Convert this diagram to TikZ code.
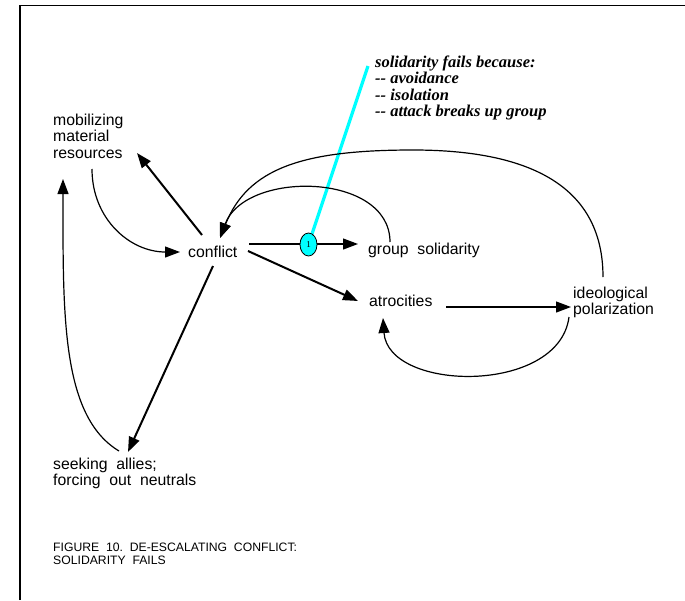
\documentclass[tikz,border=0pt]{standalone}
\usepackage{fontspec}
\setmainfont{Liberation Sans}
\newfontfamily\notefont{Liberation Serif}
\usetikzlibrary{arrows.meta,calc,shapes.geometric}
\definecolor{aqua}{RGB}{0,255,255}

\begin{document}
\begin{tikzpicture}[x=1pt,y=-1pt,
  lbl/.style={inner sep=0pt,align=left,font=\fontsize{15.8}{16.5}\selectfont},
  captxt/.style={inner sep=0pt,align=left,font=\fontsize{12.2}{13.5}\selectfont},
  notestyle/.style={inner sep=0pt,align=left,font=\notefont\bfseries\itshape\fontsize{16.5}{16.5}\selectfont},
  arr/.style={-{Triangle[length=15pt,width=11pt]}},
  heavy/.style={line width=2pt},
  lite/.style={line width=1.2pt},
  badge/.style={draw,fill=aqua,ellipse,minimum width=17pt,minimum height=23pt,
    inner sep=0pt,line width=0.8pt,font=\notefont\fontsize{9}{9}\selectfont}
]
\useasboundingbox (0,0) rectangle (685,600);
\fill[white] (0,0) rectangle (685,600);

% frame
\draw[line width=1.5pt] (20,600) -- (20,5.5) -- (685,5.5);

% labels
\node[lbl,anchor=north west] (mob) at (53,113.5) {mobilizing\\material\\resources};
\node[lbl,anchor=base west] (conf) at (188,257) {conflict};
\node[lbl,anchor=base west] (grp) at (368,254) {group\ \ solidarity};
\node[lbl,anchor=base west] (atr) at (369,306) {atrocities};
\node[lbl,anchor=north west] (ideo) at (573,286.7) {ideological\\polarization};
\node[lbl,anchor=north west] (seek) at (53,457.5) {seeking\ \ allies;\\forcing\ \ out\ \ neutrals};
\node[captxt,anchor=north west] (caption) at (53,542.5)
  {FIGURE\ \ 10.\ \ DE-ESCALATING\ \ CONFLICT:\\SOLIDARITY\ \ FAILS};
\node[notestyle,anchor=north west] (reason) at (375,55.5)
  {solidarity fails because:\\-{}- avoidance\\-{}- isolation\\-{}- attack breaks up group};

% marker position and its leader line
\coordinate (markc) at (308.5,244.5);
\draw[aqua,line width=3.2pt] (markc) -- ($(reason.north west)+(-7,10.5)$);

% conflict and its neighbours
\draw[heavy,arr] ($(conf.base west)+(14,-22)$) -- ($(mob.north west)+(84,39.5)$);
\draw[lite,arr] ($(mob.north west)+(39,55.5)$) .. controls +(0,50) and +(-50,0) .. ($(conf.base west)+(-8,-5)$);
\draw[heavy,arr] ($(conf.base west)+(25,9)$) -- ($(seek.north west)+(75,-5.5)$);
\draw[lite,arr] ($(seek.north west)+(66,-6.5)$) .. controls +(-58,-35) and +(0,135) .. ($(mob.north west)+(10,65.5)$);
\draw[lite,arr] ($(conf.base west)+(61,-13)$) -- ($(grp.base west)+(-10,-10)$);
\draw[heavy,arr] ($(conf.base west)+(60,-6)$) -- ($(atr.base west)+(-11,-5)$);

% escalation loops
\draw[lite,arr] ($(atr.base west)+(77,1)$) -- ($(ideo.north west)+(-2,20.3)$);
\draw[lite,arr] ($(ideo.north west)+(-4,30.3)$) .. controls +(-10,78) and +(5,74) .. ($(atr.base west)+(14,12)$);
\draw[lite,arr] ($(grp.base west)+(22,-12)$) .. controls +(0,-70) and +(25,-68) .. ($(conf.base west)+(32,-19)$);
\coordinate (crest) at (413,150);
\draw[lite,arr] ($(ideo.north west)+(30,-9.7)$) .. controls +(0,-95) and +(110,0) .. (crest)
  .. controls +(-110,0) and +(28,-70) .. ($(conf.base west)+(32,-19)$);

% marker on the solidarity arrow
\node[badge] (mark1) at (markc) {1};
\end{tikzpicture}
\end{document}
